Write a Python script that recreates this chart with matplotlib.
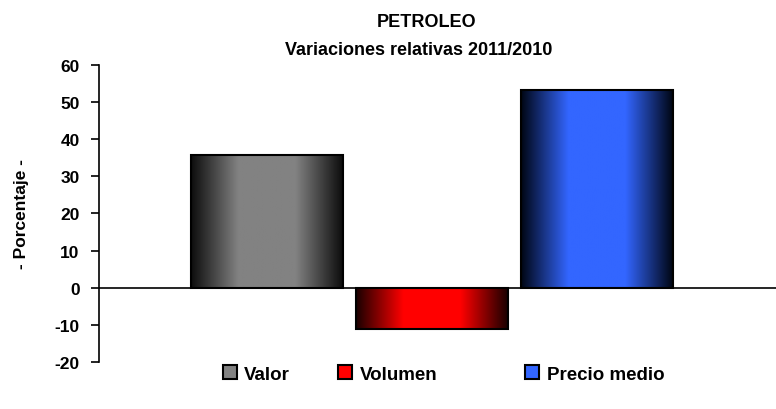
import matplotlib
matplotlib.use("Agg")
import matplotlib.pyplot as plt
import numpy as np
from matplotlib.colors import LinearSegmentedColormap
from matplotlib.patches import Patch

plt.rcParams['font.family'] = ['Liberation Sans', 'DejaVu Sans']

series = ["Valor", "Volumen", "Precio medio"]
values = [35.8, -11.2, 53.2]
dark_colors = ["#0d0d0d", "#1a0000", "#000614"]
light_colors = ["#828282", "#ff0000", "#3366ff"]
yticks = [-20, -10, 0, 10, 20, 30, 40, 50, 60]

fig = plt.figure(figsize=(7.76, 4.10), dpi=100)
ax = fig.add_axes([0.1276, 0.1146, 0.8724, 0.7252])

width = 0.92
x = np.arange(len(values))
bars = ax.bar(x, values, width=width, facecolor="none", edgecolor="black",
              linewidth=1.5, zorder=3)

# degradado horizontal oscuro-claro-oscuro en cada barra
grad = np.linspace(0, 1, 256)
grad = 1 - np.abs(grad - 0.5) * 2
grad = np.clip(grad * 1.6, 0, 1)
for b, dc, lc in zip(bars, dark_colors, light_colors):
    cmap = LinearSegmentedColormap.from_list("g", [dc, lc])
    x0, y0 = b.get_x(), b.get_y()
    w, h = b.get_width(), b.get_height()
    im = ax.imshow(grad[np.newaxis, :], cmap=cmap, aspect="auto",
                   extent=[x0, x0 + w, y0, y0 + h], zorder=2)
    im.set_clip_path(b)

ax.axhline(0, color="black", linewidth=1.2, zorder=4)
ax.set_xlim(-1.018, 3.085)
ax.set_ylim(-20, 60)
ax.set_yticks(yticks)
ax.set_yticklabels([str(t) for t in yticks], fontsize=12.5, fontweight="bold")
ax.set_xticks([])
for s in ["top", "right", "bottom"]:
    ax.spines[s].set_visible(False)
ax.spines["left"].set_linewidth(1.2)
ax.tick_params(axis="y", direction="out", length=6, width=1.2, pad=8)

ax.set_ylabel("- Porcentaje -", fontsize=12.5, fontweight="bold", labelpad=18)

fig.text(0.55, 0.946, "PETROLEO", ha="center", va="center",
         fontsize=13, fontweight="bold")
fig.text(0.54, 0.878, "Variaciones relativas 2011/2010", ha="center",
         va="center", fontsize=13, fontweight="bold")

# una leyenda por serie para fijar la posicion de cada entrada
legend_x = [0.287, 0.436, 0.677]
for name, lc, lx in zip(series, light_colors, legend_x):
    h = Patch(facecolor=lc, edgecolor="black", linewidth=1.5)
    fig.legend([h], [name], loc="center left", bbox_to_anchor=(lx, 0.085),
               frameon=False, prop={"size": 13.5, "weight": "bold"},
               handlelength=0.75, handleheight=0.75, handletextpad=0.4,
               borderpad=0, borderaxespad=0)

fig.savefig("out.png", dpi=100)
